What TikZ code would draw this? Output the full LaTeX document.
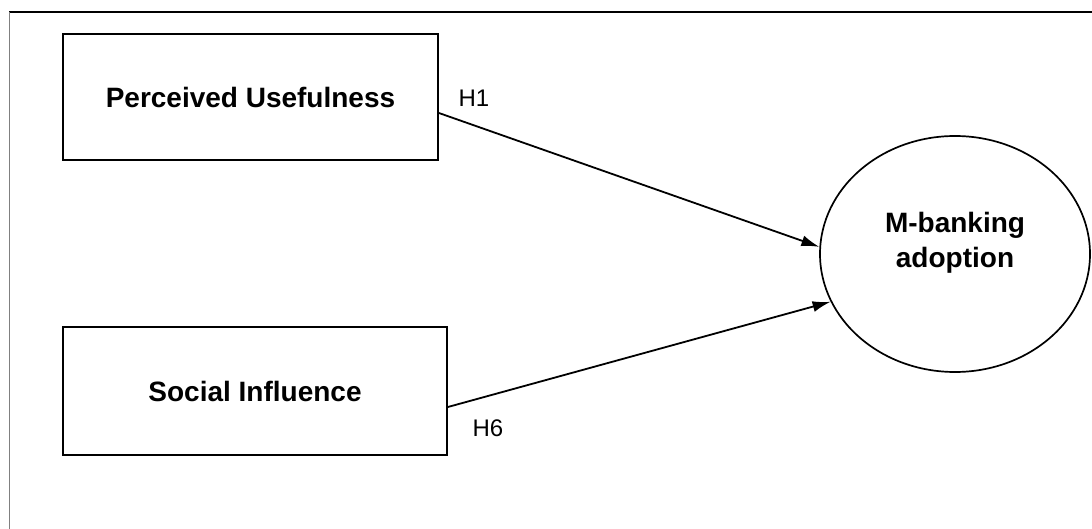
\documentclass[tikz,border=0pt]{standalone}
\usepackage{fontspec}
\setmainfont{Liberation Sans}
\usetikzlibrary{shapes.geometric,arrows.meta}
\begin{document}
\begin{tikzpicture}[x=1pt,y=-1pt,
  construct/.style={draw=black,line width=1.8pt,rectangle,inner sep=0pt,
    font=\fontsize{28}{34}\selectfont\bfseries},
  outcome/.style={draw=black,line width=1.7pt,ellipse,inner sep=0pt},
  outcometext/.style={font=\fontsize{28}{35}\selectfont\bfseries,align=center,inner sep=0pt},
  path/.style={line width=1.8pt,-{Latex[length=18pt,width=11pt]}},
  hyp/.style={font=\fontsize{24}{28}\selectfont,inner sep=0pt}]
  \useasboundingbox (0,0) rectangle (1092,529);
  % outer frame (top and left edges only)
  \draw[line width=1.6pt] (9,12) -- (1092,12);
  \draw[line width=1pt,gray] (9,12) -- (9,529);
  % constructs
  \node[construct,minimum width=375pt,minimum height=126pt] (pu) at (250.5,97) {Perceived Usefulness};
  \node[construct,minimum width=384pt,minimum height=128pt] (si) at (255,391) {Social Influence};
  \node[outcome,minimum width=270pt,minimum height=236pt] (mb) at (955,254) {};
  \node[outcometext] (mbt) at (955,243) {M-banking\\adoption};
  % hypothesised paths
  \draw[path] ([yshift=-16pt]pu.east) -- (mb.177);
  \draw[path] ([yshift=-16pt]si.east) -- (mb.201.7);
  \node[hyp] (h1) at (474,98) {H1};
  \node[hyp] (h6) at (488,428) {H6};
\end{tikzpicture}
\end{document}
